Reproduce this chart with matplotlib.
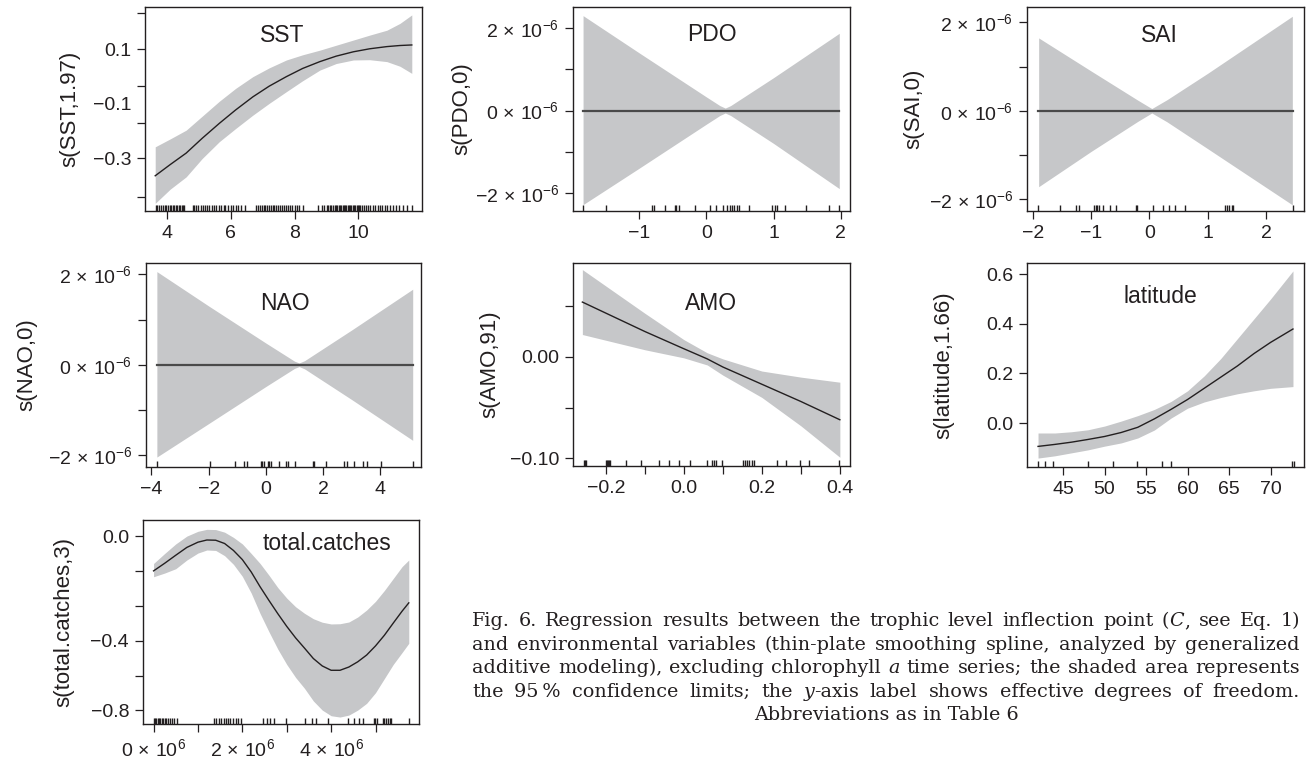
import numpy as np
import matplotlib
matplotlib.use('Agg')
import matplotlib.pyplot as plt

plt.rcParams['font.family'] = ['Liberation Sans', 'DejaVu Sans']
plt.rcParams['mathtext.fontset'] = 'custom'
plt.rcParams['mathtext.rm'] = 'Liberation Sans'
plt.rcParams['mathtext.it'] = 'Liberation Sans:italic'

W, H = 1311, 767
BAND = '#c6c7c9'
INK = '#231f20'

# ---- SST ----
sst_x = [3.63, 4.1, 4.6, 5.1, 5.64, 6.15, 6.69, 7.2, 7.74, 8.25, 8.79, 9.3, 9.84, 10.35,
         10.89, 11.3, 11.67]
sst_fit = [-0.363, -0.322, -0.28, -0.226, -0.171, -0.122, -0.074, -0.035, 0.0, 0.030,
           0.055, 0.075, 0.091, 0.102, 0.110, 0.114, 0.116]
sst_hi = [-0.257, -0.228, -0.196, -0.145, -0.09, -0.043, 0.0, 0.032, 0.061, 0.080, 0.097,
          0.115, 0.134, 0.152, 0.170, 0.195, 0.226]
sst_lo = [-0.464, -0.412, -0.367, -0.30, -0.238, -0.19, -0.141, -0.098, -0.055, -0.015,
          0.024, 0.048, 0.061, 0.062, 0.055, 0.038, 0.012]
sst_rug = [3.65, 3.70, 3.76, 3.80, 3.86, 3.93, 3.97, 4.02, 4.08, 4.12, 4.18, 4.22, 4.27,
           4.31, 4.36, 4.40, 4.46, 4.50, 4.54, 4.81, 4.86, 4.92, 4.97, 5.05, 5.12, 5.18,
           5.25, 5.30, 5.41, 5.47, 5.54, 5.62, 5.70, 5.78, 5.83, 5.92, 5.99, 6.08, 6.15,
           6.22, 6.33, 6.43, 6.80, 6.86, 6.92, 6.97, 7.03, 7.08, 7.14, 7.20, 7.25, 7.31,
           7.36, 7.42, 7.48, 7.55, 7.61, 7.67, 7.74, 7.80, 7.86, 7.93, 8.01, 8.08, 8.15,
           8.26, 8.74, 8.85, 8.93, 9.00, 9.05, 9.10, 9.15, 9.20, 9.25, 9.30, 9.34, 9.38,
           9.42, 9.46, 9.50, 9.54, 9.58, 9.62, 9.66, 9.70, 9.74, 9.78, 9.82, 9.86, 9.90,
           9.94, 9.98, 10.02, 10.05, 10.12, 10.18, 10.24, 10.30, 10.37, 10.45, 10.52,
           10.60, 10.68, 10.75, 10.82, 10.90, 11.00, 11.08, 11.18, 11.28, 11.40, 11.52, 11.67]
sst_yticks = [0.232, 0.1, -0.034, -0.171, -0.299, -0.441]
sst_ylabels = ['', '0.1', '', '', '\u22120.3', '']

# ---- PDO ----
pdo_x = [-1.84, -1.0, 0.0, 0.2, 0.28, 0.36, 1.0, 1.98]
pdo_hi = [2.31e-6, 1.40e-6, 0.33e-6, 0.12e-6, 0.06e-6, 0.12e-6, 0.80e-6, 1.88e-6]
pdo_lo = [-2.29e-6, -1.40e-6, -0.33e-6, -0.12e-6, -0.06e-6, -0.12e-6, -0.80e-6, -1.90e-6]
pdo_rug = [-1.834, -1.495, -0.813, -0.788, -0.623, -0.474, -0.449, -0.41, -0.175, 0.05,
           0.14, 0.25, 0.31, 0.35, 0.38, 0.41, 0.46, 0.49, 0.64, 0.97, 1.02, 1.05, 1.17,
           1.48, 1.82, 1.98]

# ---- SAI ----
sai_x = [-1.90, -1.0, -0.2, 0.04, 0.3, 1.0, 2.45]
sai_hi = [1.65e-6, 0.90e-6, 0.24e-6, 0.05e-6, 0.25e-6, 0.85e-6, 2.14e-6]
sai_lo = [-1.72e-6, -0.92e-6, -0.24e-6, -0.05e-6, -0.25e-6, -0.86e-6, -2.13e-6]
sai_rug = [-1.904, -1.532, -1.257, -1.211, -0.949, -0.914, -0.892, -0.868, -0.8, -0.674,
           -0.571, -0.228, -0.216, 0.069, 0.23, 0.343, 0.441, 0.612, 1.298, 1.338, 1.372,
           1.413, 1.441, 2.453]

# ---- NAO ----
nao_x = [-3.81, -2.0, 0.0, 1.0, 1.16, 1.35, 3.0, 5.13]
nao_hi = [2.06e-6, 1.30e-6, 0.48e-6, 0.08e-6, 0.04e-6, 0.09e-6, 0.77e-6, 1.67e-6]
nao_lo = [-2.04e-6, -1.30e-6, -0.48e-6, -0.08e-6, -0.04e-6, -0.09e-6, -0.77e-6, -1.67e-6]
nao_rug = [-3.81, -1.95, -1.08, -0.78, -0.66, -0.17, -0.12, -0.06, 0.06, 0.12, 0.17, 0.47,
           0.70, 0.78, 1.03, 1.63, 1.69, 2.10, 2.72, 2.83, 3.09, 3.38, 3.53, 4.02, 5.13]

# ---- AMO ----
amo_x = [-0.26, -0.1, 0.0, 0.06, 0.1, 0.2, 0.3, 0.4]
amo_fit = [0.054, 0.025, 0.008, -0.002, -0.010, -0.027, -0.044, -0.062]
amo_hi = [0.086, 0.043, 0.017, 0.004, -0.002, -0.014, -0.020, -0.025]
amo_lo = [0.022, 0.007, -0.001, -0.008, -0.018, -0.040, -0.068, -0.099]
amo_rug = [-0.257, -0.253, -0.250, -0.200, -0.197, -0.195, -0.192, -0.189, -0.149, -0.110,
           -0.064, -0.038, -0.012, 0.016, 0.059, 0.072, 0.077, 0.082, 0.097, 0.151, 0.157,
           0.163, 0.168, 0.174, 0.180, 0.239, 0.263, 0.297, 0.321, 0.398]

# ---- latitude ----
lat_x = [41.98, 44, 46, 48, 50, 52, 54, 56, 58, 60, 62, 64, 66, 68, 70, 72.7]
lat_fit = [-0.094, -0.086, -0.077, -0.066, -0.054, -0.038, -0.017, 0.017, 0.055, 0.095,
           0.14, 0.185, 0.23, 0.28, 0.325, 0.379]
lat_hi = [-0.040, -0.040, -0.035, -0.027, -0.012, 0.008, 0.030, 0.055, 0.087, 0.13, 0.19,
          0.26, 0.34, 0.42, 0.50, 0.613]
lat_lo = [-0.141, -0.132, -0.120, -0.108, -0.093, -0.080, -0.060, -0.028, 0.020, 0.060,
          0.085, 0.103, 0.118, 0.130, 0.14, 0.147]
lat_rug = [41.98, 42.87, 43.79, 47.95, 50.97, 53.95, 56.97, 58.02, 72.6, 72.8]

# ---- total.catches (x in units of 1e6) ----
tc_x = [0.0, 0.25, 0.5, 0.75, 1.0, 1.2, 1.4, 1.6, 1.8, 2.0, 2.2, 2.4, 2.6, 2.8, 3.0, 3.2,
        3.4, 3.6, 3.8, 4.0, 4.2, 4.4, 4.6, 4.8, 5.0, 5.2, 5.4, 5.6, 5.75]
tc_fit = [-0.16, -0.125, -0.088, -0.052, -0.028, -0.018, -0.019, -0.034, -0.066, -0.108,
          -0.165, -0.233, -0.296, -0.357, -0.415, -0.468, -0.515, -0.563, -0.597, -0.617,
          -0.617, -0.602, -0.578, -0.547, -0.505, -0.456, -0.40, -0.345, -0.307]
tc_hi = [-0.126, -0.08, -0.036, 0.0, 0.022, 0.031, 0.030, 0.018, -0.006, -0.036, -0.080,
         -0.126, -0.180, -0.237, -0.285, -0.325, -0.355, -0.380, -0.396, -0.404, -0.403,
         -0.395, -0.372, -0.340, -0.300, -0.250, -0.195, -0.140, -0.110]
tc_lo = [-0.187, -0.17, -0.150, -0.110, -0.078, -0.064, -0.066, -0.090, -0.130, -0.185,
         -0.262, -0.356, -0.44, -0.52, -0.59, -0.65, -0.70, -0.758, -0.800, -0.826, -0.832,
         -0.823, -0.80, -0.769, -0.72, -0.655, -0.59, -0.535, -0.493]
tc_rug = [0.0, 0.03, 0.06, 0.09, 0.12, 0.15, 0.18, 0.21, 0.25, 0.29, 0.33, 0.37, 0.42,
          0.47, 0.52, 1.36, 1.41, 1.47, 1.52, 1.58, 1.63, 1.68, 1.73, 1.79, 1.85, 1.91,
          1.97, 2.47, 2.55, 2.62, 2.72, 2.99, 3.42, 3.57, 3.66, 3.93, 4.38, 4.51, 4.63,
          4.72, 4.96, 4.99, 5.03, 5.16, 5.20, 5.24, 5.28, 5.32, 5.35, 5.75]
tc_yticks = [0.0, -0.16, -0.322, -0.481, -0.642, -0.8]
tc_ylabels = ['0.0', '', '', '\u22120.4', '', '\u22120.8']

sci_ticks = [2e-6, 1e-6, 0.0, -1e-6, -2e-6]
sci_labels = [r'$2\,\times\,10^{-6}$', '', r'$0\,\times\,10^{-6}$', '',
              '\u2212' + r'$2\,\times\,10^{-6}$']

caption = [
    "Fig. 6. Regression results between the trophic level inflection point (_C_, see Eq. 1)",
    "and environmental variables (thin-plate smoothing spline, analyzed by generalized",
    "additive modeling), excluding chlorophyll _a_ time series; the shaded area represents",
    "the 95\u2009% confidence limits; the _y_-axis label shows effective degrees of freedom.",
]
caption_last = "Abbreviations as in Table 6"

fig = plt.figure(figsize=(W / 100, H / 100), dpi=100)


def panel(rect, xlim, ylim, title, tpos, ylabel, ylab_x):
    l, t, r, b = rect
    ax = fig.add_axes([l / W, 1 - b / H, (r - l) / W, (b - t) / H])
    ax.set_xlim(xlim)
    ax.set_ylim(ylim)
    for s in ax.spines.values():
        s.set_linewidth(1.0)
        s.set_color(INK)
    ax.tick_params(which='both', direction='out', length=6, width=0.9, labelsize=14,
                   colors=INK, pad=4)
    ax.text(tpos[0], tpos[1], title, transform=ax.transAxes, ha='center', va='center',
            fontsize=16.5, color=INK)
    ax.set_ylabel(ylabel, fontsize=16, va='center', color=INK)
    ax.yaxis.set_label_coords(ylab_x, 0.5)
    return ax


def rug(ax, vals):
    ax.vlines(vals, 0, 0.03, transform=ax.get_xaxis_transform(), color=INK, lw=1.0)


# SST
ax = panel((145, 7, 422, 211), (3.31, 11.99), (-0.492, 0.255), 'SST', (0.497, 0.86),
           's(SST,1.97)', -0.271)
ax.fill_between(sst_x, sst_lo, sst_hi, color=BAND, lw=0)
ax.plot(sst_x, sst_fit, color=INK, lw=1.0)
rug(ax, sst_rug)
ax.set_xticks([4, 6, 8, 10], ['4', '6', '8', '10'])
ax.set_yticks(sst_yticks, sst_ylabels)
ax.set_yticks([-0.1], ['\u22120.1'], minor=True)
ax.tick_params(axis='y', which='minor', length=0, pad=10)
ax.tick_params(axis='y', which='major', pad=4)

# PDO
ax = panel((573, 7, 850, 211), (-1.99, 2.14), (-2.445e-6, 2.52e-6), 'PDO', (0.5, 0.863),
           's(PDO,0)', -0.402)
ax.fill_between(pdo_x, pdo_lo, pdo_hi, color=BAND, lw=0)
ax.plot([pdo_rug[0], pdo_rug[-1]], [0, 0], color='#4a4a4a', lw=1.6)
rug(ax, pdo_rug)
ax.set_xticks([-1, 0, 1, 2], ['\u22121', '0', '1', '2'])
ax.set_yticks(sci_ticks, sci_labels)

# SAI
ax = panel((1027, 7, 1304, 211), (-2.10, 2.65), (-2.27e-6, 2.35e-6), 'SAI', (0.479, 0.86),
           's(SAI,0)', -0.41)
ax.fill_between(sai_x, sai_lo, sai_hi, color=BAND, lw=0)
ax.plot([sai_rug[0], sai_rug[-1]], [0, 0], color='#4a4a4a', lw=1.6)
rug(ax, sai_rug)
ax.set_xticks([-2, -1, 0, 1, 2], ['\u22122', '\u22121', '0', '1', '2'])
ax.set_yticks(sci_ticks, sci_labels)

# NAO
ax = panel((146, 263, 421, 467), (-4.19, 5.42), (-2.26e-6, 2.25e-6), 'NAO', (0.505, 0.80),
           's(NAO,0)', -0.432)
ax.fill_between(nao_x, nao_lo, nao_hi, color=BAND, lw=0)
ax.plot([nao_rug[0], nao_rug[-1]], [0, 0], color='#4a4a4a', lw=1.6)
rug(ax, nao_rug)
ax.set_xticks([-4, -2, 0, 2, 4], ['\u22124', '\u22122', '0', '2', '4'])
ax.set_yticks(sci_ticks, sci_labels)

# AMO
ax = panel((573, 263, 850, 466), (-0.284, 0.426), (-0.1076, 0.0925), 'AMO', (0.5, 0.80),
           's(AMO,91)', -0.30)
ax.fill_between(amo_x, amo_lo, amo_hi, color=BAND, lw=0)
ax.plot(amo_x, amo_fit, color=INK, lw=1.0)
rug(ax, amo_rug)
ax.set_xticks([-0.2, -0.1, 0.0, 0.1, 0.2, 0.3, 0.4],
              ['\u22120.2', '', '0.0', '', '0.2', '', '0.4'])
ax.set_yticks([0.05, 0.0, -0.05, -0.10], ['', '0.00', '', '\u22120.10'])

# latitude
ax = panel((1027, 263, 1304, 467), (40.65, 74.03), (-0.177, 0.645), 'latitude',
           (0.48, 0.836), 's(latitude,1.66)', -0.302)
ax.fill_between(lat_x, lat_lo, lat_hi, color=BAND, lw=0)
ax.plot(lat_x, lat_fit, color=INK, lw=1.0)
rug(ax, lat_rug)
ax.set_xticks([45, 50, 55, 60, 65, 70])
ax.set_yticks([0.0, 0.2, 0.4, 0.6], ['0.0', '0.2', '0.4', '0.6'])

# total.catches
ax = panel((143, 520, 419, 724), (-0.238, 5.98), (-0.864, 0.074), 'total.catches',
           (0.665, 0.886), 's(total.catches,3)', -0.288)
ax.fill_between(tc_x, tc_lo, tc_hi, color=BAND, lw=0)
ax.plot(tc_x, tc_fit, color=INK, lw=1.0)
rug(ax, tc_rug)
ax.set_xticks([0, 1, 2, 3, 4, 5],
              [r'$0\,\times\,10^{6}$', '', r'$2\,\times\,10^{6}$', '',
               r'$4\,\times\,10^{6}$', ''])
ax.set_yticks(tc_yticks, tc_ylabels)

# caption, justified word by word
renderer = fig.canvas.get_renderer()
X0, X1 = 472, 1300
CAP_FONT = dict(family='DejaVu Serif', size=13.8, color=INK)


def put_line(line, py):
    words = []
    for w in line.split(' '):
        segs = w.split('_')
        parts = []
        for i, s in enumerate(segs):
            if s == '':
                continue
            txt = fig.text(0, 0, s, style='italic' if i % 2 else 'normal', va='center',
                           **CAP_FONT)
            parts.append((txt, txt.get_window_extent(renderer).width))
        words.append(parts)
    total = sum(wd for parts in words for _, wd in parts)
    gap = (X1 - X0 - total) / (len(words) - 1)
    x = X0
    for parts in words:
        for txt, wd in parts:
            txt.set_position((x / W, 1 - py / H))
            x += wd
        x += gap


for i, line in enumerate(caption):
    put_line(line, 621 + i * 23.6)
fig.text((X0 + X1) / 2 / W, 1 - 715 / H, caption_last, ha='center', va='center', **CAP_FONT)

fig.savefig('out.png', dpi=100)
